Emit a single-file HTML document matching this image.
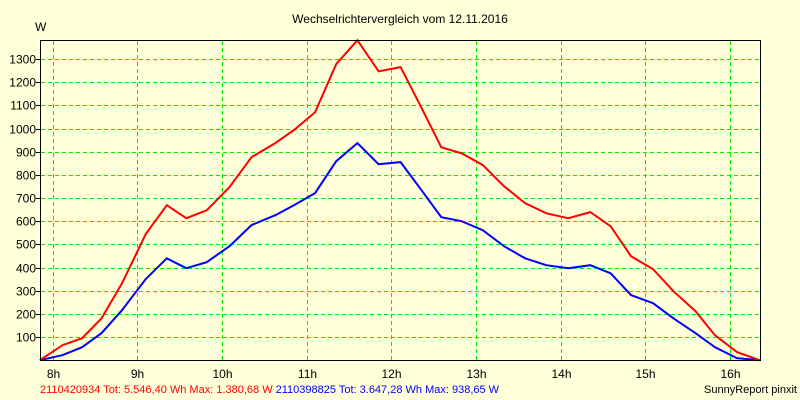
<!DOCTYPE html>
<html><head><meta charset="utf-8"><style>
body{margin:0;background:#ffffd9;}
svg{display:block;font-family:"Liberation Sans",sans-serif;}
</style></head><body>
<svg id="chart" width="800" height="400">
<rect width="800" height="400" fill="#ffffd9"/>
<text x="400" y="23" font-size="12" text-anchor="middle">Wechselrichtervergleich vom 12.11.2016</text>
<text x="35" y="31" font-size="12">W</text>
<g id="grid"></g><g id="series"></g>
<rect x="40.5" y="40.5" width="720" height="320" fill="none" stroke="#000" stroke-width="1"/>
<g id="labels"></g>
<text x="40" y="393" font-size="11" fill="#f00">2110420934 Tot: 5.546,40 Wh Max: 1.380,68 W <tspan fill="#00f">2110398825 Tot: 3.647,28 Wh Max: 938,65 W</tspan></text>
<text x="797" y="393" font-size="11" text-anchor="end">SunnyReport pinxit</text>
</svg>
<script>
const times=[7.85,8.12,8.35,8.58,8.82,9.10,9.35,9.58,9.82,10.09,10.35,10.63,10.85,11.10,11.35,11.60,11.85,12.11,12.34,12.59,12.83,13.08,13.33,13.58,13.83,14.09,14.35,14.59,14.83,15.09,15.33,15.59,15.82,16.08,16.35];
const redValues=[0,65,95,181,332,544,669,613,647,747,876,937,993,1070,1278,1381,1247,1265,1101,919,893,842,751,678,634,613,639,578,449,393,298,212,108,35,0];
const blueValues=[0,22,56,117,216,350,440,397,423,492,583,626,669,721,859,937,846,855,742,617,600,561,492,440,410,397,410,375,281,246,181,117,56,9,0];
const yTicks=[100,200,300,400,500,600,700,800,900,1000,1100,1200,1300];
const xTicks=[8,9,10,11,12,13,14,15,16];
const NS="http://www.w3.org/2000/svg";
const X=h=>52.5+(h-8)*84.7;
const Y=v=>360.2-v*0.2317;
function mk(t,a,p){const e=document.createElementNS(NS,t);for(const k in a)e.setAttribute(k,a[k]);p.appendChild(e);return e;}
const grid=document.getElementById('grid'),labels=document.getElementById('labels'),series=document.getElementById('series');
yTicks.forEach(v=>{const y=Math.round(Y(v))+0.5;
 const l=mk('line',{x1:41,x2:760,y1:y,y2:y,stroke:'#00ee00','stroke-dasharray':'4,3'},grid);
 
 
 const tk=mk('line',{x1:36,x2:40,y1:y,y2:y,stroke:'#000'},labels);
 
 
 const t=mk('text',{x:36,y:y+4,'font-size':12,'text-anchor':'end'},labels);t.textContent=v;
 
 
});
xTicks.forEach(h=>{const x=Math.round(X(h))+0.5;
 const l=mk('line',{x1:x,x2:x,y1:41,y2:360,stroke:'#00ee00','stroke-dasharray':'4,3'},grid);
 
 
 const t=mk('text',{x:x,y:378,'font-size':12,'text-anchor':'middle'},labels);t.textContent=h+'h';
 
 
});
function line(vals,col,name){const p=mk('polyline',{points:vals.map((v,i)=>X(times[i]).toFixed(1)+','+Y(v).toFixed(1)).join(' '),fill:'none',stroke:col,'stroke-width':2},series);
 
 }
line(blueValues,'#0000ff','series-2110398825');
line(redValues,'#ff0000','series-2110420934');
</script>
</body></html>
